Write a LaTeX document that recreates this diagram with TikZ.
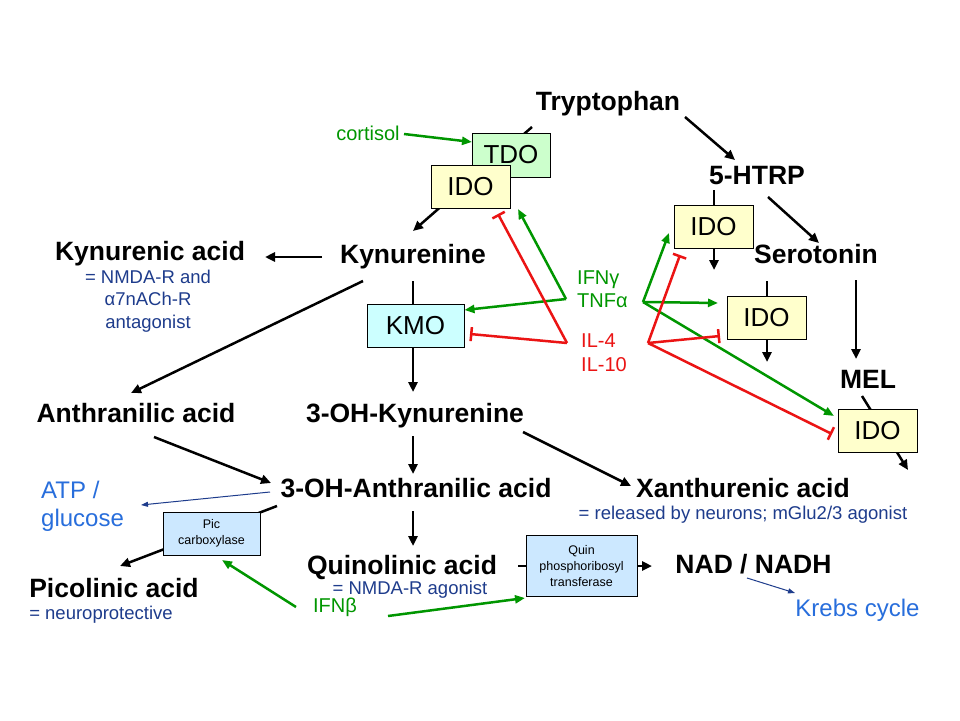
\documentclass[tikz,border=0pt]{standalone}
\usepackage{fontspec}
\setmainfont{Liberation Sans}
\usetikzlibrary{arrows.meta}
\definecolor{grn}{RGB}{0,150,0}
\definecolor{rd}{RGB}{235,20,20}
\definecolor{navy}{RGB}{30,60,140}
\definecolor{lblue}{RGB}{40,110,220}
\definecolor{tdofill}{RGB}{204,255,204}
\definecolor{idofill}{RGB}{255,255,204}
\definecolor{kmofill}{RGB}{204,255,255}
\definecolor{enzfill}{RGB}{204,232,255}
\begin{document}
\begin{tikzpicture}[x=1pt,y=-1pt,
  met/.style={font=\fontsize{26.5}{30}\selectfont\bfseries, inner sep=0pt, anchor=base},
  note/.style={font=\fontsize{18.5}{22.5}\selectfont, text=navy, inner sep=0pt, align=center},
  grtext/.style={font=\fontsize{20}{23}\selectfont, text=grn, inner sep=0pt, align=left},
  rdtext/.style={font=\fontsize{20}{24}\selectfont, text=rd, inner sep=0pt, align=left},
  bltext/.style={font=\fontsize{24}{28}\selectfont, text=lblue, inner sep=0pt, align=left},
  enzbox/.style={draw=black, line width=1pt, font=\fontsize{26}{30}\selectfont, inner sep=0pt, minimum width=79pt, minimum height=43pt},
  smallbox/.style={draw=black, line width=1pt, fill=enzfill, font=\fontsize{12.5}{16.5}\selectfont, inner sep=0pt, align=center},
  conv/.style={line width=2.5pt, -{Triangle[length=10pt,width=9pt]}},
  act/.style={grn, line width=2.5pt, -{Triangle[length=10pt,width=8pt]}},
  inh/.style={rd, line width=2.5pt, -{Bar[width=14pt,line width=2.5pt]}},
  thinarrow/.style={navy, line width=1pt, -{Triangle[length=7pt,width=5pt]}}
]
\useasboundingbox (0,0) rectangle (960,720);
\fill[white] (0,0) rectangle (960,720);

% metabolites
\node[met] (tryp) at (608,110) {Tryptophan};
\node[met] (htrp) at (757,184) {5-HTRP};
\node[met] (sero) at (816,263) {Serotonin};
\node[met] (mel) at (868,388) {MEL};
\node[met] (kyn) at (413,263) {Kynurenine};
\node[met] (kyna) at (150,260) {Kynurenic acid};
\node[met] (anth) at (136,422) {Anthranilic acid};
\node[met] (ohkyn) at (415,422) {3-OH-Kynurenine};
\node[met] (ohanth) at (416,497) {3-OH-Anthranilic acid};
\node[met] (xanth) at (743,497) {Xanthurenic acid};
\node[met] (pica) at (114,597) {Picolinic acid};
\node[met] (quina) at (402,574) {Quinolinic acid};
\node[met] (nad) at (753.5,573) {NAD / NADH};

% notes
\node[note] (kynanote) at (148,301) {= NMDA-R and\\α7nACh-R\\antagonist};
\node[note] (xanthnote) at (743,515) {= released by neurons; mGlu2/3 agonist};
\node[note] (picnote) at (101,615) {= neuroprotective};
\node[note] (quinnote) at (410,590) {= NMDA-R agonist};

% regulators
\node[grtext] (cort) at (368,133) {cortisol};
\node[grtext, anchor=west] (ifng) at (577,289) {IFNγ\\TNFα};
\node[rdtext, anchor=west] (il) at (581,353) {IL-4\\IL-10};
\node[grtext] (ifnb) at (335,607) {IFNβ};
\node[bltext, anchor=west] (atp) at (41,506) {ATP /\\glucose};
\node[bltext] (krebs) at (857.5,610) {Krebs cycle};

% coordinates for connectors
\coordinate (c-tryp-s) at (532,127);
\coordinate (c-kyn-n) at (413,231);
\coordinate (c-tryp-e) at (685,117);
\coordinate (c-htrp-nw) at (735,160);
\coordinate (c-htrp-s) at (714,190);
\coordinate (c-htrp-d) at (714,270);
\coordinate (c-htrp-se) at (768,197);
\coordinate (c-sero-nw) at (819,243);
\coordinate (c-sero-s) at (767,281);
\coordinate (c-sero-d) at (767,362);
\coordinate (c-sero-se) at (856,280);
\coordinate (c-mel-n) at (856,359);
\coordinate (c-mel-s) at (862,396);
\coordinate (c-mel-d) at (908,470);
\coordinate (c-kyn-w) at (322,257);
\coordinate (c-kyna-e) at (265,257);
\coordinate (c-kyn-s) at (413,281);
\coordinate (c-ohkyn-n) at (413,392);
\coordinate (c-kyn-sw) at (363,281);
\coordinate (c-anth-n) at (131,393);
\coordinate (c-anth-se) at (154,437);
\coordinate (c-ohanth-w) at (271,483);
\coordinate (c-ohkyn-s) at (413,436);
\coordinate (c-ohanth-n) at (413,474);
\coordinate (c-ohkyn-se) at (523,432);
\coordinate (c-xanth-w) at (631,486);
\coordinate (c-ohanth-w2) at (270,492);
\coordinate (c-atp-e) at (141,505);
\coordinate (c-ohanth-sw) at (277,506);
\coordinate (c-pica-n) at (120,566);
\coordinate (c-ohanth-s) at (413,511);
\coordinate (c-quina-n) at (413,546);
\coordinate (c-quina-e) at (518,566);
\coordinate (c-nad-w) at (652,566);
\coordinate (c-nad-se) at (747,578);
\coordinate (c-krebs-nw) at (795,593);
\coordinate (c-ifnb-nw) at (296,607);
\coordinate (c-picbox-s) at (222,560);
\coordinate (c-ifnb-e) at (388,616);
\coordinate (c-quinbox-w) at (525,598);
\coordinate (c-cort-e) at (404,134);
\coordinate (c-tdo-w) at (472,142);
\coordinate (gL) at (566,299);
\coordinate (rL) at (567,343);
\coordinate (gR) at (643,302);
\coordinate (rR) at (648,343);

% main conversion arrows (drawn first, boxes sit on top)
\draw[conv] (c-tryp-s) -- (c-kyn-n);
\draw[conv] (c-tryp-e) -- (c-htrp-nw);
\draw[conv] (c-htrp-s) -- (c-htrp-d);
\draw[conv] (c-htrp-se) -- (c-sero-nw);
\draw[conv] (c-sero-s) -- (c-sero-d);
\draw[conv] (c-sero-se) -- (c-mel-n);
\draw[conv] (c-mel-s) -- (c-mel-d);
\draw[conv] (c-kyn-w) -- (c-kyna-e);
\draw[conv] (c-kyn-s) -- (c-ohkyn-n);
\draw[conv] (c-kyn-sw) -- (c-anth-n);
\draw[conv] (c-anth-se) -- (c-ohanth-w);
\draw[conv] (c-ohkyn-s) -- (c-ohanth-n);
\draw[conv] (c-ohkyn-se) -- (c-xanth-w);
\draw[conv] (c-ohanth-sw) -- (c-pica-n);
\draw[conv] (c-ohanth-s) -- (c-quina-n);
\draw[conv] (c-quina-e) -- (c-nad-w);
\draw[thinarrow] (c-ohanth-w2) -- (c-atp-e);
\draw[thinarrow] (c-nad-se) -- (c-krebs-nw);

% enzyme boxes
\node[enzbox, fill=tdofill, minimum width=78pt, minimum height=44pt] (tdo) at (511,155) {TDO};
\node[enzbox, fill=idofill] (ido1) at (470.5,186.5) {IDO};
\node[enzbox, fill=idofill] (ido2) at (713.5,226.5) {IDO};
\node[enzbox, fill=idofill] (ido3) at (766.5,317.5) {IDO};
\node[enzbox, fill=idofill] (ido4) at (877.5,431) {IDO};
\node[enzbox, fill=kmofill, minimum width=97pt] (kmo) at (415.5,325.5) {KMO};
\node[smallbox, minimum width=97pt, minimum height=43pt] (picbox) at (211.5,533.5) {Pic\\carboxylase};
\node[smallbox, minimum width=111pt, minimum height=61pt, font=\fontsize{12.5}{16}\selectfont] (quinbox) at (581.5,566) {Quin\\phosphoribosyl\\transferase};

% regulation
\draw[act] (c-cort-e) -- (c-tdo-w);
\draw[act] (gL) -- (518,209);
\draw[act] (gL) -- (kmo.east |- 0,310);
\draw[inh] (rL) -- (498,214);
\draw[inh] (rL) -- (470,334);
\draw[act] (gR) -- (669,233);
\draw[act] (gR) -- (718,303);
\draw[act] (gR) -- (834,416);
\draw[inh] (rR) -- (680,255);
\draw[inh] (rR) -- (720,336);
\draw[inh] (rR) -- (832,434);
\draw[act] (c-ifnb-nw) -- (c-picbox-s);
\draw[act] (c-ifnb-e) -- (c-quinbox-w);
\end{tikzpicture}
\end{document}
